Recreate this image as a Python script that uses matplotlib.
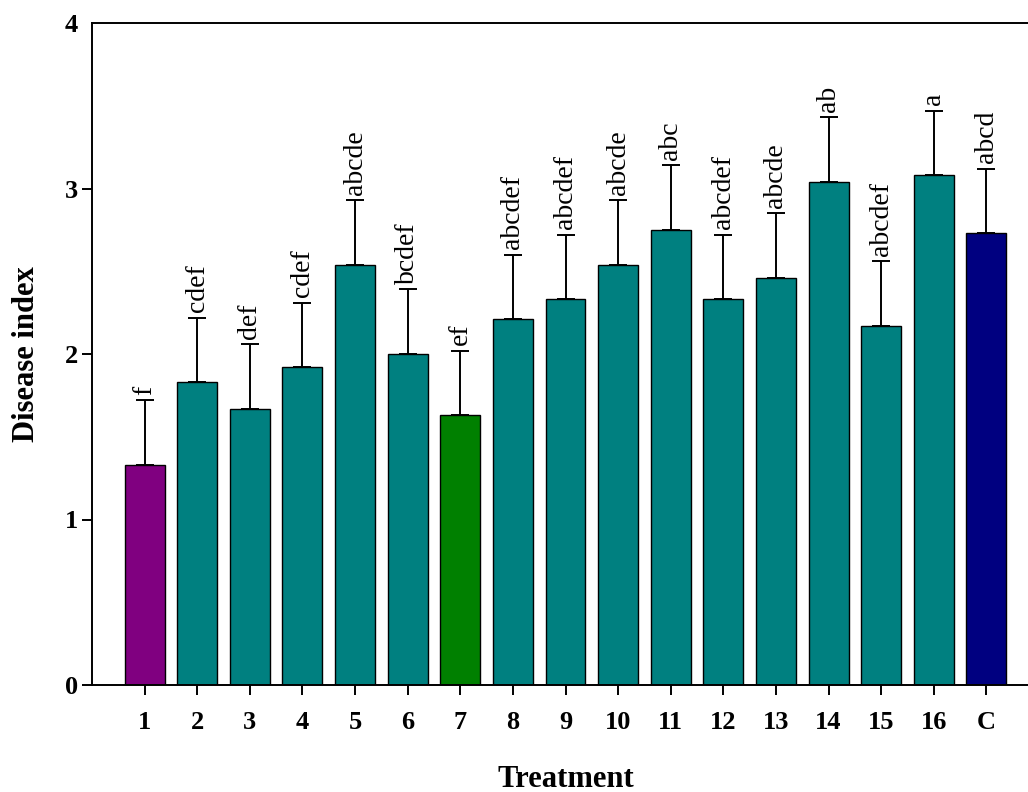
import matplotlib.pyplot as plt
import numpy as np

# disease index per treatment (mean and upper error)
treatments = ['1', '2', '3', '4', '5', '6', '7', '8', '9', '10', '11', '12', '13', '14', '15', '16', 'C']
disease_index = [1.33, 1.83, 1.67, 1.92, 2.54, 2.00, 1.63, 2.21, 2.33, 2.54, 2.75, 2.33, 2.46, 3.04, 2.17, 3.08, 2.73]
errors = [0.39, 0.39, 0.39, 0.39, 0.39, 0.39, 0.39, 0.39, 0.39, 0.39, 0.39, 0.39, 0.39, 0.39, 0.39, 0.39, 0.39]
letters = ['f', 'cdef', 'def', 'cdef', 'abcde', 'bcdef', 'ef', 'abcdef', 'abcdef', 'abcde',
           'abc', 'abcdef', 'abcde', 'ab', 'abcdef', 'a', 'abcd']
bar_colors = ['#800080'] + ['#008080'] * 5 + ['#008000'] + ['#008080'] * 9 + ['#000080']

plt.rcParams['font.family'] = 'Liberation Serif'

fig = plt.figure(figsize=(10.28, 7.92), dpi=100)
ax = fig.add_axes([92 / 1028, 107 / 792, 947 / 1028, 662 / 792])

x = np.arange(1, len(treatments) + 1)
ax.bar(x, disease_index, width=0.76, color=bar_colors, edgecolor='black', linewidth=1.0, zorder=2)
ax.errorbar(x, disease_index, yerr=[np.zeros(len(errors)), errors], fmt='none',
            ecolor='black', elinewidth=1.4, capsize=6.5, capthick=1.4, zorder=3)

for xi, v, e, lab in zip(x, disease_index, errors, letters):
    ax.annotate(lab, (xi, v + e), xytext=(0, 4), textcoords='offset points',
                rotation=90, ha='center', va='bottom', fontsize=20)

ax.set_xlim(0, 18)
ax.set_ylim(0, 4)
ax.set_xticks(x)
ax.set_xticklabels(treatments, fontsize=19, fontweight='bold')
ax.set_yticks([0, 1, 2, 3, 4])
ax.set_yticklabels(['0', '1', '2', '3', '4'], fontsize=19, fontweight='bold')
ax.tick_params(axis='x', direction='out', length=7, width=1.4, pad=12)
ax.tick_params(axis='y', direction='out', length=7, width=1.4, pad=3)
# no tick mark at the top corner
ax.yaxis.get_major_ticks()[-1].tick1line.set_visible(False)

ax.spines['right'].set_visible(False)
for s in ['left', 'top', 'bottom']:
    ax.spines[s].set_linewidth(1.4)

ax.set_xlabel('Treatment', fontsize=22, fontweight='bold', labelpad=22)
ax.set_ylabel('Disease index', fontsize=22, fontweight='bold', labelpad=17)

fig.savefig('out.png', dpi=100)
